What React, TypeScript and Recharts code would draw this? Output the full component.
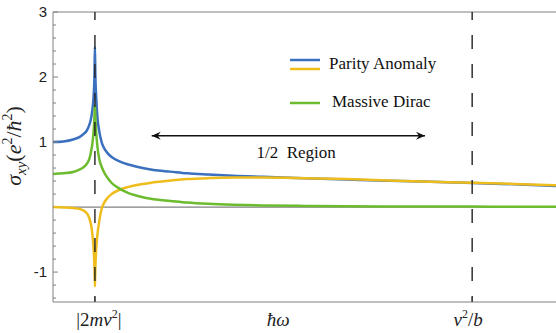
import React from "react";
import {
  LineChart,
  Line,
  XAxis,
  YAxis,
  ReferenceLine,
  ReferenceDot,
  Legend,
} from "recharts";

// ---- data ----
const xValues = [0, 0.25, 0.48, 0.64, 0.72, 0.8, 0.84, 0.88, 0.91, 0.94, 0.97, 0.99, 1.0, 1.01, 1.03, 1.06, 1.1, 1.16, 1.2, 1.3, 1.4, 1.6, 1.8, 2.0, 2.4, 2.8, 3.2, 3.7, 4.3, 5, 6, 7, 8, 9, 10, 11, 12];
const parityBlue = [1.0, 1.01, 1.04, 1.08, 1.12, 1.17, 1.22, 1.29, 1.37, 1.5, 1.72, 2.05, 2.46, 2.05, 1.7, 1.38, 1.18, 1.0, 0.93, 0.83, 0.77, 0.7, 0.655, 0.62, 0.57, 0.545, 0.52, 0.5, 0.48, 0.465, 0.445, 0.425, 0.405, 0.39, 0.37, 0.35, 0.325];
const parityYellow = [0, -0.005, -0.015, -0.03, -0.05, -0.09, -0.13, -0.2, -0.28, -0.42, -0.65, -0.95, -1.22, -0.95, -0.65, -0.42, -0.23, -0.03, 0.04, 0.14, 0.2, 0.27, 0.31, 0.34, 0.38, 0.41, 0.43, 0.445, 0.455, 0.455, 0.445, 0.43, 0.41, 0.39, 0.375, 0.355, 0.335];
const massiveGreen = [0.51, 0.52, 0.54, 0.58, 0.61, 0.66, 0.7, 0.77, 0.86, 0.98, 1.18, 1.4, 1.57, 1.4, 1.15, 0.93, 0.75, 0.62, 0.56, 0.45, 0.37, 0.28, 0.215, 0.175, 0.12, 0.095, 0.07, 0.05, 0.035, 0.025, 0.018, 0.013, 0.01, 0.008, 0.007, 0.006, 0.005];

const legendNames = ["Parity Anomaly", "Massive Dirac"];
const xTicks = [1, 5.37, 10];
const xTickMarks = [1, 10];
const yTicks = [-1.4, -1.2, -1, -0.8, -0.6, -0.4, -0.2, 0, 0.2, 0.4, 0.6, 0.8, 1, 1.2, 1.4, 1.6, 1.8, 2, 2.2, 2.4, 2.6, 2.8, 3];
const yTickLabels: Record<string, string> = { "3": "3", "2": "2", "1": "1", "-1": "-1" };
const dashedX = [1, 10];
const arrowStart = { x: 2.355, y: 1.097 };
const arrowEnd = { x: 8.875, y: 1.097 };
const regionLabel = { x: 5.8, y: 0.83, text: "1/2\u00a0\u00a0Region" };

const data = xValues.map((x, i) => ({
  x,
  blue: parityBlue[i],
  yellow: parityYellow[i],
  green: massiveGreen[i],
}));

const BLUE = "#3a70be";
const YELLOW = "#eebd1c";
const GREEN = "#6dbb2f";
const AXIS = "#808080";
const SERIF = "'Liberation Serif', 'Times New Roman', serif";
const SANS = "'Liberation Sans', Arial, sans-serif";

const YTick = (props: any) => {
  const { x, y, payload } = props;
  const v = payload.value;
  const major = Math.abs(v - Math.round(v)) < 1e-6;
  const label = yTickLabels[String(v)];
  return (
    <g>
      {v !== 0 && (
        <line x1={x} x2={x + (major ? 5 : 3)} y1={y} y2={y} stroke={AXIS} strokeWidth={1} />
      )}
      {label && (
        <text x={x - 6} y={y} dy={5} textAnchor="end" fontFamily={SANS} fontSize={15} fill="#222">
          {label}
        </text>
      )}
    </g>
  );
};

const XTick = (props: any) => {
  const { x, y, payload } = props;
  const v = payload.value;
  const idx = xTicks.indexOf(v);
  const common = { fontFamily: SERIF, fontSize: 19, fill: "#222", textAnchor: "middle" as const };
  let content: React.ReactNode = null;
  if (idx === 0) {
    content = (
      <text x={x + 4} y={y + 24} {...common}>
        <tspan>|2</tspan>
        <tspan fontStyle="italic">mv</tspan>
        <tspan fontSize={12} dy={-8}>2</tspan>
        <tspan dy={8}>|</tspan>
      </text>
    );
  } else if (idx === 1) {
    content = (
      <text x={x} y={y + 24} {...common} fontStyle="italic">
        {"ħω"}
      </text>
    );
  } else if (idx === 2) {
    content = (
      <text x={x - 4} y={y + 24} {...common}>
        <tspan fontStyle="italic">v</tspan>
        <tspan fontSize={12} dy={-8}>2</tspan>
        <tspan dy={8}>/</tspan>
        <tspan fontStyle="italic">b</tspan>
      </text>
    );
  }
  return (
    <g>
      {xTickMarks.includes(v) && <line x1={x} x2={x} y1={y} y2={y - 5} stroke="#444" strokeWidth={1} />}
      {content}
    </g>
  );
};

const YLabel = (props: any) => {
  const vb = props.viewBox || { x: 0, y: 12, width: 53, height: 290 };
  const cx = vb.x + 21;
  const cy = 146;
  return (
    <text
      x={cx}
      y={cy}
      transform={`rotate(-90 ${cx} ${cy})`}
      textAnchor="middle"
      fontFamily={SERIF}
      fontSize={22}
      fill="#222"
    >
      <tspan fontStyle="italic">σ</tspan>
      <tspan fontStyle="italic" fontSize={15} dy={5}>xy</tspan>
      <tspan dy={-5}>(</tspan>
      <tspan fontStyle="italic">e</tspan>
      <tspan fontSize={14} dy={-9}>2</tspan>
      <tspan dy={9}>/</tspan>
      <tspan fontStyle="italic">ħ</tspan>
      <tspan fontSize={14} dy={-9}>2</tspan>
      <tspan dy={9}>)</tspan>
    </text>
  );
};

const LegendContent = () => (
  <div style={{ position: "relative", width: 200, height: 70, fontFamily: SERIF, fontSize: 17, color: "#111" }}>
    <svg width={40} height={70} style={{ position: "absolute", left: 0, top: 0 }}>
      <line x1={2} x2={32} y1={8} y2={8} stroke={BLUE} strokeWidth={2.5} />
      <line x1={2} x2={32} y1={17} y2={17} stroke={YELLOW} strokeWidth={2.5} />
      <line x1={2} x2={32} y1={51} y2={51} stroke={GREEN} strokeWidth={2.5} />
    </svg>
    <div style={{ position: "absolute", left: 41, top: 1, whiteSpace: "nowrap", lineHeight: "22px" }}>{legendNames[0]}</div>
    <div style={{ position: "absolute", left: 44, top: 39, whiteSpace: "nowrap", lineHeight: "22px" }}>{legendNames[1]}</div>
  </div>
);

const ArrowHead = (dir: number) => (props: any) => {
  const { cx, cy } = props;
  if (cx == null || cy == null) return <g />;
  const L = 9;
  const H = 4;
  return (
    <path
      d={`M${cx},${cy} L${cx - dir * L},${cy - H} L${cx - dir * (L - 3)},${cy} L${cx - dir * L},${cy + H} Z`}
      fill="#111"
    />
  );
};

const RegionText = (props: any) => {
  const { cx, cy } = props;
  if (cx == null || cy == null) return <g />;
  return (
    <text x={cx} y={cy} dy={5} textAnchor="middle" fontFamily={SERIF} fontSize={17} fill="#111">
      {regionLabel.text}
    </text>
  );
};

export default function App() {
  return (
    <div style={{ position: "absolute", left: 0, top: 0, width: 556, height: 333, background: "#fff" }}>
      <LineChart width={556} height={333} data={data} margin={{ top: 12, right: 0, bottom: 0, left: 0 }}>
        <XAxis
          dataKey="x"
          type="number"
          domain={[0, 12]}
          ticks={xTicks}
          interval={0}
          tick={<XTick />}
          tickLine={false}
          tickSize={0}
          tickMargin={0}
          height={31}
          axisLine={{ stroke: AXIS, strokeWidth: 1 }}
          allowDataOverflow
        />
        <YAxis
          type="number"
          domain={[-1.46, 3]}
          ticks={yTicks}
          interval={0}
          tick={<YTick />}
          tickLine={false}
          tickSize={0}
          tickMargin={0}
          width={53}
          axisLine={{ stroke: AXIS, strokeWidth: 1 }}
          allowDataOverflow
          label={<YLabel />}
        />
        <ReferenceLine y={3} stroke={AXIS} strokeWidth={1} />
        <ReferenceLine y={0} stroke={AXIS} strokeWidth={1.2} />
        <Line type="monotone" dataKey="blue" stroke={BLUE} strokeWidth={2.5} dot={false} isAnimationActive={false} />
        <Line type="monotone" dataKey="yellow" stroke={YELLOW} strokeWidth={2.5} dot={false} isAnimationActive={false} />
        <Line type="monotone" dataKey="green" stroke={GREEN} strokeWidth={2.5} dot={false} isAnimationActive={false} />
        {dashedX.map((x) => (
          <ReferenceLine key={x} x={x} stroke="#222" strokeWidth={1.4} strokeDasharray="14 15" strokeDashoffset={8} />
        ))}
        <ReferenceLine segment={[arrowStart, arrowEnd]} stroke="#111" strokeWidth={1.4} />
        <ReferenceDot x={arrowStart.x} y={arrowStart.y} shape={ArrowHead(-1)} />
        <ReferenceDot x={arrowEnd.x} y={arrowEnd.y} shape={ArrowHead(1)} />
        <ReferenceDot x={regionLabel.x} y={regionLabel.y} shape={RegionText} />
        <Legend
          layout="vertical"
          align="center"
          verticalAlign="middle"
          content={<LegendContent />}
          wrapperStyle={{ position: "absolute", left: 288, top: 52, width: 200, height: 70 }}
        />
      </LineChart>
    </div>
  );
}
